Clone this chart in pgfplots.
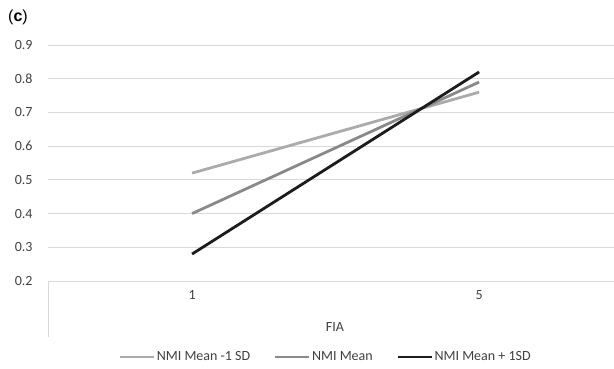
\documentclass[border=0pt]{standalone}
\usepackage{pgfplots}
\pgfplotsset{compat=1.18}
\usepackage{fontspec}
\setmainfont{Carlito}
\newfontfamily\arialf{Liberation Sans}
\definecolor{gridc}{HTML}{D9D9D9}
\definecolor{lowc}{HTML}{ABABAB}
\definecolor{midc}{HTML}{898989}
\definecolor{highc}{HTML}{1C1C1C}
\definecolor{txt}{HTML}{404040}
\begin{document}
\begin{tikzpicture}[x=1bp,y=1bp]
\path[use as bounding box] (0,0) rectangle (614,368);
\begin{axis}[
  at={(48bp,87bp)}, anchor=south west,
  scale only axis, width=566bp, height=236bp,
  xmin=-0.502, xmax=1.47, ymin=0.2, ymax=0.9,
  xtick={0,1}, xticklabels={1,5},
  ytick={0.2,0.3,...,0.9},
  yticklabel style={/pgf/number format/fixed,/pgf/number format/precision=1,/pgf/number format/fixed zerofill},
  /pgf/number format/assume math mode=true,
  ymajorgrids, grid style={gridc, line width=1bp},
  axis line style={draw=none},
  axis x line*=bottom, axis y line*=left,
  major tick length=0pt,
  tick label style={font=\fontsize{14bp}{16bp}\selectfont, text=txt},
  yticklabel style={anchor=east, xshift=-12bp},
  xticklabel style={yshift=-6bp},
  clip=false,
  legend style={draw=none, at={(rel axis cs:0.49,0)}, anchor=center, yshift=-76bp,
    font=\fontsize{14bp}{16bp}\selectfont, text=txt, legend columns=3,
    nodes={inner xsep=1.5bp},
    /tikz/every even column/.append style={column sep=22bp}},
  legend image code/.code={\draw[#1] (0bp,0bp) -- (34bp,0bp);},
]
\addplot[lowc, line width=2.8bp] coordinates {(0,0.52) (1,0.76)};
\addlegendentry{NMI Mean -1 SD}
\addplot[midc, line width=2.8bp] coordinates {(0,0.40) (1,0.79)};
\addlegendentry{NMI Mean}
\addplot[highc, line width=2.8bp] coordinates {(0,0.28) (1,0.82)};
\addlegendentry{NMI Mean + 1SD}
\draw[gridc, line width=1bp] (rel axis cs:0,0) -- (rel axis cs:1,0);
\draw[gridc, line width=1bp] (rel axis cs:0,0) -- ++(0bp,-56bp);
\node[font=\fontsize{14bp}{16bp}\selectfont, text=txt] at ([yshift=-46bp]rel axis cs:0.507,0) {FIA};
\end{axis}
\node[anchor=base west, inner sep=0pt, font=\arialf\fontsize{16bp}{18bp}\selectfont] at (8,347) {(\textbf{c})};
\end{tikzpicture}
\end{document}
